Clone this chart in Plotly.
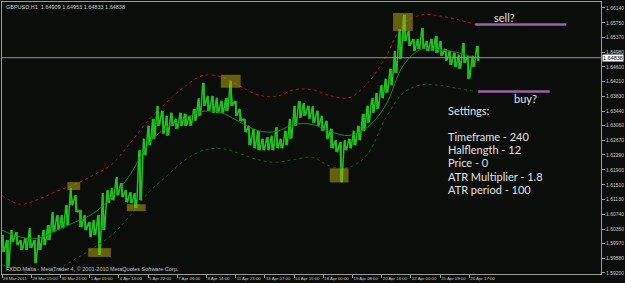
import numpy as np
import plotly.graph_objects as go

# ---- data (GBPUSD H1, sampled every 5 bars) ----
bar_step = 5
high = [1.6019, 1.6006, 1.6032, 1.6027, 1.6006, 1.6011, 1.6037, 1.6006, 1.6019, 1.6032,
        1.6045, 1.6079, 1.6071, 1.6071, 1.6097, 1.6142, 1.6123, 1.6084, 1.6071, 1.6053,
        1.6058, 1.6071, 1.6129, 1.6136, 1.6142, 1.6170, 1.6155, 1.6136, 1.6131, 1.6129,
        1.6241, 1.6272, 1.6306, 1.6324, 1.6358, 1.6345, 1.6332, 1.6340, 1.6324, 1.6340,
        1.6337, 1.6332, 1.6350, 1.6377, 1.6418, 1.6384, 1.6384, 1.6379, 1.6371, 1.6377,
        1.6424, 1.6371, 1.6350, 1.6324, 1.6306, 1.6298, 1.6293, 1.6272, 1.6275, 1.6280,
        1.6301, 1.6272, 1.6293, 1.6324, 1.6358, 1.6371, 1.6364, 1.6358, 1.6356, 1.6345,
        1.6332, 1.6319, 1.6298, 1.6267, 1.6262, 1.6267, 1.6272, 1.6293, 1.6306, 1.6337,
        1.6358, 1.6377, 1.6392, 1.6411, 1.6429, 1.6455, 1.6502, 1.6559, 1.6596, 1.6554,
        1.6533, 1.6533, 1.6562, 1.6528, 1.6533, 1.6541, 1.6528, 1.6507, 1.6502, 1.6497,
        1.6492, 1.6523, 1.6489, 1.6489, 1.6515]
low = [1.5975, 1.5935, 1.6001, 1.5993, 1.5980, 1.5980, 1.5985, 1.5946, 1.5980, 1.5993,
       1.6006, 1.6027, 1.6032, 1.6037, 1.6045, 1.6097, 1.6079, 1.6040, 1.6032, 1.6014,
       1.6019, 1.5967, 1.6032, 1.6103, 1.6110, 1.6123, 1.6118, 1.6105, 1.6103, 1.6090,
       1.6110, 1.6228, 1.6254, 1.6272, 1.6306, 1.6285, 1.6280, 1.6306, 1.6298, 1.6306,
       1.6306, 1.6306, 1.6319, 1.6332, 1.6358, 1.6345, 1.6340, 1.6340, 1.6340, 1.6345,
       1.6358, 1.6332, 1.6319, 1.6288, 1.6254, 1.6246, 1.6241, 1.6241, 1.6241, 1.6241,
       1.6246, 1.6246, 1.6254, 1.6272, 1.6306, 1.6327, 1.6332, 1.6324, 1.6314, 1.6306,
       1.6293, 1.6272, 1.6246, 1.6236, 1.6157, 1.6241, 1.6246, 1.6254, 1.6267, 1.6293,
       1.6314, 1.6340, 1.6350, 1.6377, 1.6392, 1.6411, 1.6444, 1.6481, 1.6528, 1.6515,
       1.6502, 1.6507, 1.6507, 1.6502, 1.6502, 1.6497, 1.6489, 1.6476, 1.6465, 1.6460,
       1.6455, 1.6470, 1.6429, 1.6460, 1.6476]

band_step = 20
upper_band = [1.6123, 1.6100, 1.6113, 1.6134, 1.6152, 1.6176, 1.6204, 1.6259, 1.6319, 1.6366,
              1.6408, 1.6437, 1.6434, 1.6410, 1.6387, 1.6382, 1.6400, 1.6400, 1.6384, 1.6379,
              1.6416, 1.6484, 1.6572, 1.6596, 1.6593, 1.6583, 1.6570]
middle_band = [1.6032, 1.6014, 1.6011, 1.6032, 1.6053, 1.6076, 1.6118, 1.6176, 1.6256, 1.6301,
               1.6324, 1.6343, 1.6340, 1.6316, 1.6293, 1.6290, 1.6309, 1.6309, 1.6290, 1.6280,
               1.6301, 1.6358, 1.6465, 1.6507, 1.6504, 1.6497, 1.6481]
lower_band = [1.5941, 1.5928, 1.5909, 1.5928, 1.5956, 1.5985, 1.6019, 1.6069, 1.6129, 1.6173,
              1.6215, 1.6241, 1.6246, 1.6233, 1.6217, 1.6210, 1.6217, 1.6223, 1.6199, 1.6196,
              1.6230, 1.6324, 1.6392, 1.6413, 1.6411, 1.6403, 1.6395]

x_tick_bars = [0, 32, 64, 96, 128, 160, 192, 224, 256, 288, 320, 352, 384, 416, 448, 480, 512]
x_tick_labels = ["28 Mar 2011", "29 Mar 15:00", "30 Mar 21:00", "1 Apr 05:00", "4 Apr 14:00",
                 "5 Apr 22:00", "7 Apr 06:00", "8 Apr 14:00", "11 Apr 23:00", "13 Apr 07:00",
                 "14 Apr 15:00", "18 Apr 00:00", "19 Apr 08:00", "20 Apr 16:00", "22 Apr 00:00",
                 "25 Apr 09:00", "26 Apr 17:00"]
y_tick_labels = ["1.66140", "1.65750", "1.65370", "1.64980", "1.64600", "1.64210", "1.63830",
                 "1.63440", "1.63060", "1.62670", "1.62290", "1.61900", "1.61510", "1.61130",
                 "1.60740", "1.60350", "1.59970", "1.59580", "1.59200"]

last_price = 1.64838
title_text = "GBPUSD,H1  1.64909 1.64953 1.64833 1.64838"
copyright_text = "FXDD Malta - MetaTrader 4, \u00a9 2001-2010 MetaQuotes Software Corp."

# marked zones: (bar_from, bar_to, price_low, price_high)
zones = [(71.6, 85.7, 1.6137, 1.6158), (94.4, 119.3, 1.5962, 1.5985),
         (136.7, 157.3, 1.6082, 1.6100), (239.7, 261.4, 1.6405, 1.6439),
         (359.0, 379.6, 1.6157, 1.6194), (428.4, 450.0, 1.6554, 1.6601)]
sell_level = (518.4, 618.2, 1.6571)
buy_level = (521.7, 600.0, 1.6395)
settings_lines = [("Settings:", 1.6345), ("Timeframe - 240", 1.6277), ("Halflength - 12", 1.6243),
                  ("Price - 0", 1.6209), ("ATR Multiplier - 1.8", 1.6173), ("ATR period - 100", 1.6139)]
settings_x = 486

# ---- figure ----
hi = np.array(high)
lo = np.array(low)
xb = np.arange(len(hi)) * bar_step
# zig-zag through each block's high and low, like dense OHLC bars
zx = np.empty(2 * len(hi)); zy = np.empty(2 * len(hi))
zx[0::2] = xb; zx[1::2] = xb + bar_step / 2
zy[0::2] = hi; zy[1::2] = lo
xband = np.arange(len(upper_band)) * band_step

fig = go.Figure()
fig.add_trace(go.Bar(x=xb + bar_step / 4, y=hi - lo, base=lo, width=bar_step * 0.35,
                     marker=dict(color="#1aa81a", line=dict(width=0)), hoverinfo="skip"))
fig.add_trace(go.Scatter(x=zx, y=zy, mode="lines", line=dict(color="#22c022", width=1.5), hoverinfo="skip"))
fig.add_trace(go.Scatter(x=xband, y=middle_band, mode="lines", line=dict(color="#1c8a1c", width=1, shape="spline")))
fig.add_trace(go.Scatter(x=xband, y=upper_band, mode="lines", line=dict(color="#b81414", width=1, dash="dot", shape="spline")))
fig.add_trace(go.Scatter(x=xband, y=lower_band, mode="lines", line=dict(color="#176017", width=1, dash="dot", shape="spline")))

shapes = []
for x0, x1, y0, y1 in zones:
    shapes.append(dict(type="rect", x0=x0, x1=x1, y0=y0, y1=y1, xref="x", yref="y",
                       fillcolor="rgba(175,165,20,0.55)", line=dict(width=0)))
for x0, x1, yv in (sell_level, buy_level):
    shapes.append(dict(type="line", x0=x0, x1=x1, y0=yv, y1=yv, xref="x", yref="y",
                       line=dict(color="#9a62a8", width=2.5)))
shapes.append(dict(type="line", x0=0, x1=1, xref="paper", y0=last_price, y1=last_price, yref="y",
                   line=dict(color="#8a94a8", width=1)))

txt_font = dict(family="Lato, Open Sans, sans-serif", size=11, color="#e4e4e4")
annotations = [
    dict(text="sell?", x=550, y=1.6588, xref="x", yref="y", showarrow=False, font=txt_font),
    dict(text="buy?", x=574, y=1.6376, xref="x", yref="y", showarrow=False, font=txt_font),
    dict(text=title_text, x=0.003, y=1, xref="paper", yref="paper", xanchor="left", yanchor="top",
         showarrow=False, font=dict(family="Liberation Sans, Arial", size=5.5, color="#d0d0d0")),
    dict(text=copyright_text, x=0.003, y=0, xref="paper", yref="paper", xanchor="left", yanchor="bottom",
         showarrow=False, yshift=0, font=dict(family="Liberation Sans, Arial", size=5.5, color="#c8c8c8")),
    dict(text="1.64838", x=1, y=last_price, xref="paper", yref="y", xanchor="left", yanchor="middle",
         showarrow=False, bgcolor="#ffffff", borderpad=0, xshift=1,
         font=dict(family="Liberation Sans, Arial", size=5.5, color="#000000")),
]
for t, yv in settings_lines:
    annotations.append(dict(text=t, x=settings_x, y=yv, xref="x", yref="y", xanchor="left",
                            showarrow=False, font=txt_font))

fig.update_layout(
    width=625, height=283, margin=dict(l=2, r=18, t=1, b=9),
    paper_bgcolor="#0a0d0a", plot_bgcolor="#0a0d0a",
    showlegend=False, bargap=0, shapes=shapes, annotations=annotations,
    xaxis=dict(range=[0, 656.2], tickmode="array", tickvals=x_tick_bars, ticktext=x_tick_labels,
               tickangle=0, ticks="outside", ticklen=3, tickcolor="#a0a0a0", ticklabelposition="outside right",
               tickfont=dict(family="Liberation Sans, Arial", size=4.3, color="#c8c8c8"),
               showgrid=False, zeroline=False, showline=True, linecolor="#9a9a9a", linewidth=1, mirror=True),
    yaxis=dict(range=[1.59172, 1.66297], side="right", tickmode="array",
               tickvals=[float(v) for v in y_tick_labels], ticktext=y_tick_labels,
               ticks="outside", ticklen=3, tickcolor="#a0a0a0",
               tickfont=dict(family="Liberation Sans, Arial", size=5, color="#c8c8c8"),
               showgrid=False, zeroline=False, showline=True, linecolor="#9a9a9a", linewidth=1, mirror=True),
)

fig.write_html("out.html")
